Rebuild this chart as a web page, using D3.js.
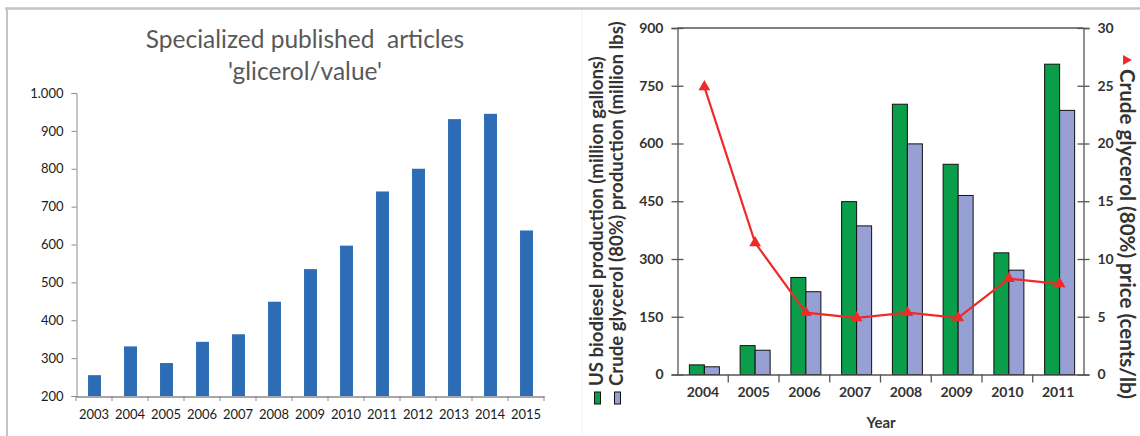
<!DOCTYPE html>
<html><head><meta charset="utf-8">
<script src="https://cdn.jsdelivr.net/npm/d3@7"></script>
<style>
body{margin:0;background:#fff;}
svg{display:block;}
text{font-family:Lato,"Open Sans",sans-serif;}
</style></head>
<body><svg id="c" width="1140" height="436"></svg>
<script>
// ---- Left chart data ----
const articleYears = ["2003","2004","2005","2006","2007","2008","2009","2010","2011","2012","2013","2014","2015"];
const articleCounts = [255,331,287,343,363,449,535,597,740,800,931,945,637];
const articleTicks = [200,300,400,500,600,700,800,900,1000];
const articleTitle = ["Specialized published  articles","'glicerol/value'"];

// ---- Right chart data ----
const prodYears = ["2004","2005","2006","2007","2008","2009","2010","2011"];
const biodiesel = [25,75,252,449,702,546,316,806];
const crudeGlycerol = [20,63,215,386,599,465,271,686];
const glycerolPrice = [24.9,11.4,5.35,4.9,5.35,4.9,8.3,7.85];
const leftTicks = [0,150,300,450,600,750,900];
const rightTicks = [0,5,10,15,20,25,30];
const leftTitles = ["US biodiesel production (million gallons)","Crude glycerol (80%) production (million lbs)"];
const rightTitle = "Crude glycerol (80%) price (cents/lb)";
const xTitle = "Year";

const svg = d3.select("#c");

// frame lines
svg.append("line").attr("x1",5).attr("x2",1140).attr("y1",8.5).attr("y2",8.5).attr("stroke","#c4c4c4").attr("stroke-width",2.5);
svg.append("line").attr("x1",7).attr("x2",7).attr("y1",8).attr("y2",436).attr("stroke","#c4c4c4").attr("stroke-width",2);
svg.append("line").attr("x1",582).attr("x2",582).attr("y1",10).attr("y2",436).attr("stroke","#f2f2f2").attr("stroke-width",1);

// ===== Left chart =====
{
  const g = svg.append("g");
  const x = d3.scaleBand().domain(articleYears).range([76,544]).padding(0);
  const y = d3.scaleLinear().domain([200,1000]).range([396,93]);
  const fmt = d => d===1000 ? "1.000" : String(d);

  g.selectAll("text.title").data(articleTitle).join("text")
    .attr("x",305).attr("y",(d,i)=>48+i*32).attr("text-anchor","middle")
    .attr("font-size",24.5).attr("fill","#595959").style("white-space","pre").text(d=>d);

  const bw = x.step()*0.36;
  g.selectAll("rect.bar").data(articleCounts).join("rect")
    .attr("x",(d,i)=>x(articleYears[i])+x.bandwidth()/2-bw/2+0.5)
    .attr("y",d=>y(d)).attr("width",bw).attr("height",d=>y(200)-y(d))
    .attr("fill","#2e6db5");

  const ya = g.append("g").attr("transform","translate(76.5,0)")
    .call(d3.axisLeft(y).tickValues(articleTicks).tickFormat(fmt).tickSize(5).tickPadding(8));
  ya.select(".domain").attr("stroke","#8a8a8a");
  ya.selectAll(".tick line").attr("stroke","#8a8a8a");
  ya.selectAll("text").attr("font-family","Lato").attr("font-size",13).attr("fill","#1a1a1a");

  const xa = g.append("g").attr("transform","translate(0,396.5)")
    .call(d3.axisBottom(x).tickSize(0).tickPadding(13));
  xa.select(".domain").attr("stroke","#8a8a8a").attr("stroke-width",1.5);
  xa.selectAll("text").attr("font-family","Lato").attr("font-size",13).attr("fill","#1a1a1a");
  const bounds = articleYears.map(d=>x(d)).concat([544]);
  g.selectAll("line.xt").data(bounds).join("line")
    .attr("x1",d=>d).attr("x2",d=>d).attr("y1",396).attr("y2",401).attr("stroke","#8a8a8a");
}

// ===== Right chart =====
{
  const g = svg.append("g");
  const L=677.5, R=1083.5, T=28, B=374.5;
  const x = d3.scaleBand().domain(prodYears).range([L,R]).padding(0);
  const y = d3.scaleLinear().domain([0,900]).range([B,T]);
  const y2 = d3.scaleLinear().domain([0,30]).range([B,T]);
  const dark = "#333";
  const green = "#0b9e4a", blue = "#97a0d4", red = "#ee2b27";

  g.append("line").attr("x1",L).attr("x2",R).attr("y1",T).attr("y2",T).attr("stroke","#555").attr("stroke-width",1.3);

  const bw = 15;
  const cx = d => x(d)+x.bandwidth()/2+1.5;
  g.selectAll("rect.g").data(biodiesel).join("rect")
    .attr("x",(d,i)=>cx(prodYears[i])-bw).attr("y",d=>y(d)).attr("width",bw).attr("height",d=>B-y(d))
    .attr("fill",green).attr("stroke","#111").attr("stroke-width",1);
  g.selectAll("rect.b").data(crudeGlycerol).join("rect")
    .attr("x",(d,i)=>cx(prodYears[i])).attr("y",d=>y(d)).attr("width",bw).attr("height",d=>B-y(d))
    .attr("fill",blue).attr("stroke","#111").attr("stroke-width",1);

  const line = d3.line().x((d,i)=>cx(prodYears[i])).y(d=>y2(d));
  g.append("path").datum(glycerolPrice).attr("d",line).attr("fill","none").attr("stroke",red).attr("stroke-width",2.2);
  const tri = d3.symbol().type(d3.symbolTriangle).size(60);
  g.selectAll("path.m").data(glycerolPrice).join("path")
    .attr("transform",(d,i)=>`translate(${cx(prodYears[i])},${y2(d)})`).attr("d",tri).attr("fill",red);

  const ya = g.append("g").attr("transform",`translate(${L},0)`)
    .call(d3.axisLeft(y).tickValues(leftTicks).tickSize(6).tickPadding(8));
  ya.selectAll(".tick line").attr("x2",6).attr("x1",-6);
  ya.selectAll("text").attr("font-family","Lato").attr("font-weight","bold").attr("font-size",14).attr("fill",dark);
  ya.select(".domain").attr("stroke","#555").attr("stroke-width",1.3);
  ya.selectAll(".tick line").attr("stroke","#555").attr("stroke-width",1.3);

  const yb = g.append("g").attr("transform",`translate(${R},0)`)
    .call(d3.axisRight(y2).tickValues(rightTicks).tickSize(6).tickPadding(8));
  yb.selectAll(".tick line").attr("x2",6).attr("x1",-6);
  yb.selectAll("text").attr("font-family","Lato").attr("font-weight","bold").attr("font-size",14).attr("fill",dark);
  yb.select(".domain").attr("stroke","#555").attr("stroke-width",1.3);
  yb.selectAll(".tick line").attr("stroke","#555").attr("stroke-width",1.3);

  const xa = g.append("g").attr("transform",`translate(0,${B})`)
    .call(d3.axisBottom(x).tickSize(0).tickPadding(13));
  xa.select(".domain").attr("stroke","#555").attr("stroke-width",1.3);
  xa.selectAll("text").attr("font-family","Lato").attr("font-weight","bold").attr("font-size",14).attr("fill",dark);
  const bounds = prodYears.slice(1).map(d=>x(d));
  g.selectAll("line.xt").data(bounds).join("line")
    .attr("x1",d=>d).attr("x2",d=>d).attr("y1",B).attr("y2",B+8).attr("stroke","#555").attr("stroke-width",1.3);

  g.append("text").attr("x",881).attr("y",428).attr("text-anchor","middle")
    .attr("font-weight","bold").attr("font-size",15).attr("fill",dark).text(xTitle);

  const targets = [330,365];
  leftTitles.forEach((t,i)=>{
    const bx = 603 + i*20;
    const tx = g.append("text").attr("transform",`translate(${bx},386) rotate(-90)`)
      .attr("font-weight","bold").attr("font-size",15).attr("fill",dark).text(t);
    const len = tx.node().getComputedTextLength();
    tx.attr("font-size",15*targets[i]/len);
    g.append("rect").attr("x",bx-8.5).attr("y",392).attr("width",6).attr("height",12)
      .attr("fill",i===0?green:blue).attr("stroke","#111").attr("stroke-width",1);
  });

  g.append("path").attr("transform","translate(1126,60) rotate(90)").attr("d",d3.symbol().type(d3.symbolTriangle).size(45)).attr("fill",red);
  const rt = g.append("text").attr("transform","translate(1120,69) rotate(90)")
    .attr("font-weight","bold").attr("font-size",15).attr("fill",dark).text(rightTitle);
  const rl = rt.node().getComputedTextLength();
  rt.attr("font-size",15*330/rl);
}
</script></body></html>
